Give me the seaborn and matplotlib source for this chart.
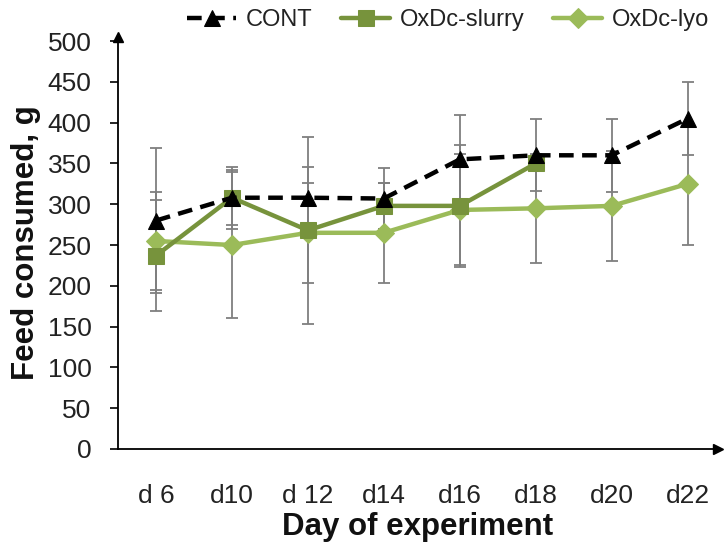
import matplotlib
matplotlib.use("Agg")
import matplotlib.pyplot as plt
import seaborn as sns
import numpy as np
import pandas as pd

days = ["d 6", "d10", "d 12", "d14", "d16", "d18", "d20", "d22"]
cont = [280, 308, 308, 307, 355, 360, 360, 405]
cont_err = [89, 38, 38, 37, 55, 44, 45, 45]
slurry = [237, 308, 268, 298, 298, 350]
slurry_err = [68, 34, 115, 28, 75, 0]
lyo = [255, 250, 265, 265, 293, 295, 298, 325]
lyo_err = [60, 90, 61, 61, 68, 67, 67, 75]
yticks = list(range(0, 501, 50))

sns.set_theme(style="white")
plt.rcParams['font.family'] = ['Liberation Sans', 'DejaVu Sans']

fig = plt.figure(figsize=(7.24, 5.43), dpi=100)
ax = fig.add_axes([118/724, 94/543, 600/724, 412/543])

series = [
    ("CONT", cont, cont_err, "black", "^", (3.3, 1.9)),
    ("OxDc-slurry", slurry, slurry_err, "#77933C", "s", None),
    ("OxDc-lyo", lyo, lyo_err, "#9BBB59", "D", None),
]

for name, vals, errs, col, mk, ds in series:
    x = np.arange(len(vals))
    ax.errorbar(x, vals, yerr=errs, fmt="none", ecolor="#7f7f7f",
                elinewidth=1.3, capsize=4, capthick=1.3, zorder=1)

for name, vals, errs, col, mk, ds in series[::-1]:
    df = pd.DataFrame({"x": np.arange(len(vals)), "y": vals})
    sns.lineplot(data=df, x="x", y="y", ax=ax, color=col, marker=mk,
                 markersize=12 if mk != "D" else 10, markeredgecolor=col,
                 linewidth=3.2, label=name, zorder=3)
    if ds:
        ax.lines[-1].set_dashes(ds)

ax.set_xlim(-0.5, 7.4)
ax.set_ylim(0, 505)
ax.set_yticks(yticks)
ax.set_xticks(range(len(days)))
ax.set_xticklabels(days)
ax.tick_params(axis="y", which="major", direction="out", length=6, width=1.2,
               color="black", labelsize=19, left=True, pad=13, labelcolor="#222222")
ax.tick_params(axis="x", length=0, labelsize=19, pad=25, labelcolor="#222222")
for s in ["top", "right"]:
    ax.spines[s].set_visible(False)
for s in ["left", "bottom"]:
    ax.spines[s].set_color("black")
    ax.spines[s].set_linewidth(1.3)
ax.plot(1, 0, marker=">", color="black", markersize=7, transform=ax.transAxes, clip_on=False)
ax.plot(0, 1, marker="^", color="black", markersize=7, transform=ax.transAxes, clip_on=False)

ax.set_xlabel("Day of experiment", fontsize=22.5, fontweight="bold", labelpad=3, color="#111111")
ax.set_ylabel("Feed consumed, g", fontsize=22.5, fontweight="bold", labelpad=5, color="#111111")

handles, labels = ax.get_legend_handles_labels()
order = [labels.index(n) for n in ["CONT", "OxDc-slurry", "OxDc-lyo"]]
ax.legend([handles[i] for i in order], [labels[i] for i in order],
          loc="upper center", bbox_to_anchor=(0.55, 1.12), ncol=3, frameon=False,
          fontsize=17, handlelength=2.1, columnspacing=1.2, handletextpad=0.4,
          labelcolor="#222222")

fig.savefig("out.png", dpi=100)
